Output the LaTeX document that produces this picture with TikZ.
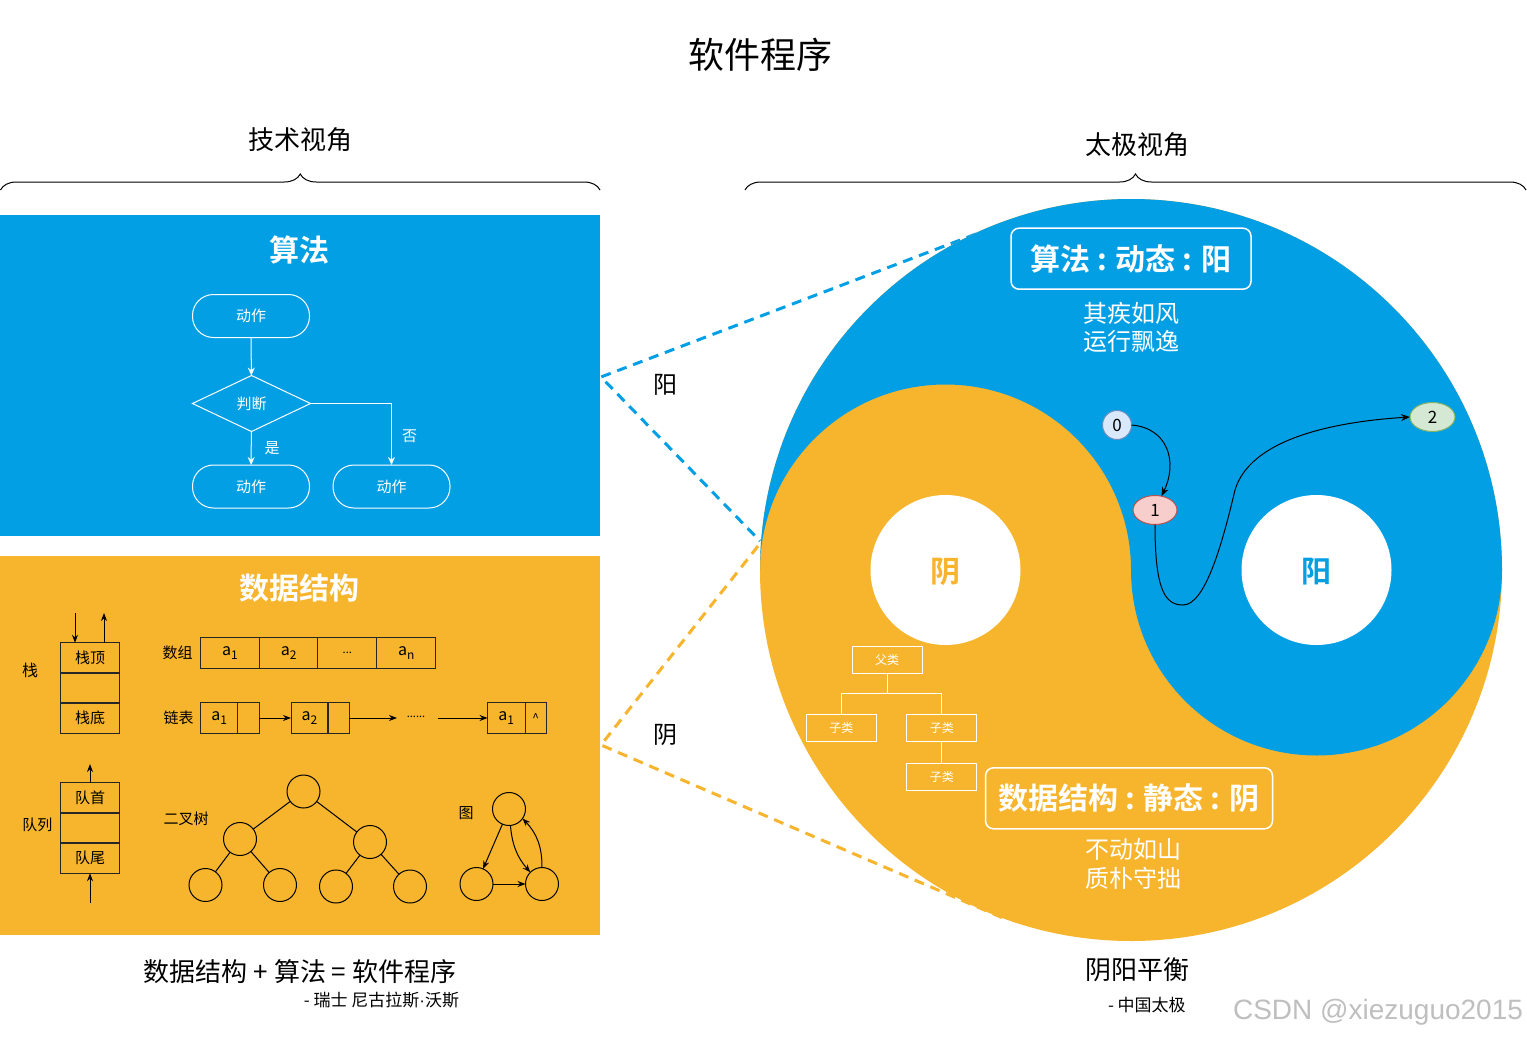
\documentclass[tikz,border=0pt]{standalone}
\usepackage{fontspec}
\setmainfont{Noto Sans CJK SC}[BoldFont={Noto Sans CJK SC Bold}]
\newfontfamily\wmfont{Liberation Sans}
\usetikzlibrary{shapes.geometric,arrows.meta,decorations.pathreplacing}
\definecolor{bluec}{RGB}{3,159,228}
\definecolor{orangec}{RGB}{247,181,45}
\definecolor{nzfill}{RGB}{218,232,252}
\definecolor{nzdraw}{RGB}{108,142,191}
\definecolor{nofill}{RGB}{248,206,204}
\definecolor{nodraw}{RGB}{184,84,80}
\definecolor{ntfill}{RGB}{213,232,212}
\definecolor{ntdraw}{RGB}{130,179,102}
\newcommand{\FS}[1]{\fontsize{#1}{#1}\selectfont}
\newcommand{\mysub}[1]{\raisebox{-4pt}{\FS{12}#1}}
\begin{document}
\begin{tikzpicture}[x=1pt,y=-1pt,
  every node/.style={inner sep=0pt,outer sep=0pt},
  flowbox/.style={draw=white,line width=1pt,rounded corners=21pt,minimum width=117pt,minimum height=43pt,text=white,font=\FS{15}},
  decision/.style={diamond,draw=white,line width=1pt,aspect=2.1,minimum width=118pt,minimum height=56pt,text=white,font=\FS{15}},
  warrow/.style={draw=white,line width=1pt,-{Stealth[length=8pt,width=7pt]}},
  wlabel/.style={text=white,font=\FS{15}},
  cell/.style={draw=black!85,line width=1pt,minimum height=30.5pt,font=\FS{15}},
  blabel/.style={text=black,font=\FS{15}},
  barrow/.style={draw=black,line width=1pt,-{Stealth[length=8pt,width=6pt]}},
  tnode/.style={circle,draw=black,line width=1pt,minimum size=33pt},
  clsbox/.style={draw=white,line width=1pt,minimum width=70pt,minimum height=27pt,text=white,font=\FS{12}},
  bigbox/.style={draw=white,line width=1.5pt,rounded corners=8pt,minimum height=61pt,text=white,font=\bfseries\FS{30}},
  dashblue/.style={draw=bluec,line width=3pt,dash pattern=on 10pt off 7pt},
  dashorange/.style={draw=orangec,line width=3pt,dash pattern=on 10pt off 7pt},
  bracestyle/.style={decorate,decoration={brace,amplitude=16pt},line width=1pt},
  ynode/.style={ellipse,line width=1pt,minimum height=29pt,font=\FS{17}},
  karrow/.style={draw=black,line width=1pt,-{Stealth[length=9pt,width=7pt]}},
  plain/.style={text=black},
]
\useasboundingbox (0,0) rectangle (1527,1039);
\fill[white] (0,0) rectangle (1527,1039);

% titles
\node[plain,font=\FS{36}] (title) at (760,55) {软件程序};
\node[plain,font=\FS{26}] (techview) at (300,140) {技术视角};
\node[plain,font=\FS{26}] (taiview) at (1137,145) {太极视角};
\coordinate (bl1) at (0.5,190); \coordinate (bl2) at (600,190);
\coordinate (br1) at (745,190); \coordinate (br2) at (1526,190);
\draw[bracestyle] (bl1) -- (bl2);
\draw[bracestyle] (br1) -- (br2);

% panels
\fill[bluec] (0,215) rectangle (600,536);
\fill[orangec] (0,556) rectangle (600,935);

% algorithm panel
\node[text=white,font=\bfseries\FS{30}] (algtitle) at (299,250) {算法};
\node[flowbox] (fa) at (251,316) {动作};
\node[decision] (fd) at (251.5,403.5) {判断};
\node[flowbox] (fb) at (251,486.5) {动作};
\node[flowbox] (fc) at (391.5,486.5) {动作};
\draw[warrow] (fa) -- (fd);
\draw[warrow] (fd) -- (fb);
\draw[warrow] (fd.east) -| (fc.north);
\node[wlabel] (yes) at (272,448) {是};
\node[wlabel] (no) at (409.5,436) {否};

% data structure panel
\node[text=white,font=\bfseries\FS{30}] (dstitle) at (299,588) {数据结构};
% stack
\node[blabel,font=\FS{16}] (stk) at (30,670) {栈};
\node[cell,minimum width=58.6pt] (s1) at (90,658) {栈顶};
\node[cell,minimum width=58.6pt] (s2) at (90,688) {};
\node[cell,minimum width=58.6pt] (s3) at (90,718) {栈底};
\coordinate (sd) at (75,613);
\coordinate (su) at (104,613);
\draw[barrow] (sd) -- (sd |- s1.north);
\draw[barrow] (su |- s1.north) -- (su);
% array
\node[blabel] (arr) at (177.5,653) {数组};
\node[cell,minimum width=58.7pt,font=\FS{16}] (a1) at (230,653) {a\mysub{1}};
\node[cell,minimum width=58.7pt,font=\FS{16}] (a2) at (288.6,653) {a\mysub{2}};
\node[cell,minimum width=58.7pt,font=\FS{11}] (a3) at (347.3,653) {...};
\node[cell,minimum width=58.7pt,font=\FS{16}] (a4) at (406.2,653) {a\mysub{n}};
% linked list
\node[blabel] (lnk) at (178.6,718) {链表};
\node[cell,minimum width=37.2pt,font=\FS{16}] (l1a) at (219.3,718) {a\mysub{1}};
\node[cell,minimum width=21.4pt] (l1b) at (248.6,718) {};
\node[cell,minimum width=37pt,font=\FS{16}] (l2a) at (309.5,718) {a\mysub{2}};
\node[cell,minimum width=21.4pt] (l2b) at (338.6,718) {};
\node[cell,minimum width=37.5pt,font=\FS{16}] (l3a) at (506.3,718) {a\mysub{1}};
\node[cell,minimum width=21.4pt,font=\FS{12}] (l3b) at (535.7,718) {\textasciicircum};
\coordinate (ld1) at (397,718);
\coordinate (ld2) at (437.5,718);
\node[blabel,font=\FS{11}] (ldots) at (416,717) {......};
\draw[barrow] (l1b.east) -- (l2a.west);
\draw[barrow] (l2b.east) -- (ld1);
\draw[barrow] (ld2) -- (l3a.west);
% queue
\node[blabel] (que) at (37.5,825) {队列};
\node[cell,minimum width=58.6pt] (q1) at (90,798) {队首};
\node[cell,minimum width=58.6pt] (q2) at (90,828) {};
\node[cell,minimum width=58.6pt] (q3) at (90,858) {队尾};
\coordinate (qt) at (90,764);
\coordinate (qb) at (90,903);
\draw[barrow] (q1.north) -- (qt);
\draw[barrow] (qb) -- (q3.south);
% binary tree
\node[blabel] (btree) at (186,819) {二叉树};
\node[tnode] (t0) at (303.5,791.5) {};
\node[tnode] (t1) at (240,839) {};
\node[tnode] (t2) at (370,842) {};
\node[tnode] (t3) at (205.5,885) {};
\node[tnode] (t4) at (280,885) {};
\node[tnode] (t5) at (336,886.5) {};
\node[tnode] (t6) at (410,886.5) {};
\draw[line width=1pt] (t0) -- (t1) (t0) -- (t2) (t1) -- (t3) (t1) -- (t4) (t2) -- (t5) (t2) -- (t6);
% graph
\node[blabel] (grph) at (466,813) {图};
\node[tnode] (g0) at (509,809) {};
\node[tnode] (g1) at (476.5,884) {};
\node[tnode] (g2) at (542,884) {};
\draw[barrow] (g0) -- (g1);
\draw[barrow] (g1) -- (g2);
\draw[barrow] (g0.-85) to[bend right=18] (g2.135);
\draw[barrow] (g2.90) to[bend right=22] (g0.-35);

% dashed connectors
\coordinate (pb) at (601,377);
\coordinate (yt) at (976,234);
\coordinate (yl) at (760,541);
\coordinate (yl2) at (758,546);
\coordinate (po) at (601,745);
\coordinate (yb) at (1003,918);
\draw[dashblue] (yt) -- (pb) -- (yl);
\draw[dashorange] (yl2) -- (po) -- (yb);
\node[plain,font=\FS{24}] (yanglab) at (665,385) {阳};
\node[plain,font=\FS{24}] (yinlab) at (665,735) {阴};

% yin-yang
\fill[orangec] (1131,570) circle[radius=371];
\fill[bluec] (760,570) arc[start angle=180,end angle=360,radius=371]
  arc[start angle=0,end angle=180,radius=185.5]
  arc[start angle=360,end angle=180,radius=185.5] -- cycle;
\fill[white] (945.5,570) circle[radius=75];
\fill[white] (1316.5,570) circle[radius=75];
\node[text=orangec,font=\bfseries\FS{30}] (yindot) at (945.5,572) {阴};
\node[text=bluec,font=\bfseries\FS{30}] (yangdot) at (1316.5,572) {阳};

\node[bigbox,minimum width=240pt] (algbox) at (1131,258.7) {算法 : 动态 : 阳};
\node[text=white,align=center,font=\fontsize{24}{28}\selectfont] (algtxt) at (1131,327.5) {其疾如风\\运行飘逸};
\node[bigbox,minimum width=287pt] (dsbox) at (1129,798.3) {数据结构 : 静态 : 阴};
\node[text=white,align=center,font=\fontsize{24}{29}\selectfont] (dstxt) at (1133,863.5) {不动如山\\质朴守拙};

% class tree
\node[clsbox] (cp) at (887,660) {父类};
\node[clsbox] (cc1) at (841.4,727.5) {子类};
\node[clsbox] (cc2) at (941.8,727.5) {子类};
\node[clsbox] (cc3) at (941.8,777) {子类};
\draw[white,line width=1pt] (cp.south) -- ++(0,20) -| (cc1.north);
\draw[white,line width=1pt] (cp.south) -- ++(0,20) -| (cc2.north);
\draw[white,line width=1pt] (cc2) -- (cc3);

% nodes 0 1 2
\node[ynode,fill=nzfill,draw=nzdraw,minimum width=29pt] (n0) at (1117,425) {0};
\node[ynode,fill=nofill,draw=nodraw,minimum width=44pt] (n1) at (1155,510) {1};
\node[ynode,fill=ntfill,draw=ntdraw,minimum width=45pt] (n2) at (1432.5,417) {2};
\draw[karrow] (n0.east) .. controls (1168,428) and (1178,462) .. (n1.65);
\draw[karrow] (n1.south) .. controls (1155,590) and (1165,605) .. (1183,605)
  .. controls (1205,605) and (1222,545) .. (1235,490)
  .. controls (1250,440) and (1330,422) .. (n2.west);

% bottom texts
\node[plain,font=\FS{26}] (formula) at (300,972) {数据结构 + 算法 = 软件程序};
\node[plain,font=\FS{17},anchor=east] (wirth) at (459,1000) {- 瑞士 尼古拉斯{\wmfont ·}沃斯};
\node[plain,font=\FS{26}] (balance) at (1137,970) {阴阳平衡};
\node[plain,font=\FS{17},anchor=west] (china) at (1108,1005) {- 中国太极};
\node[text=black!25,font=\wmfont\FS{28},anchor=east] (wm) at (1523,1012) {CSDN @xiezuguo2015};
\end{tikzpicture}
\end{document}
